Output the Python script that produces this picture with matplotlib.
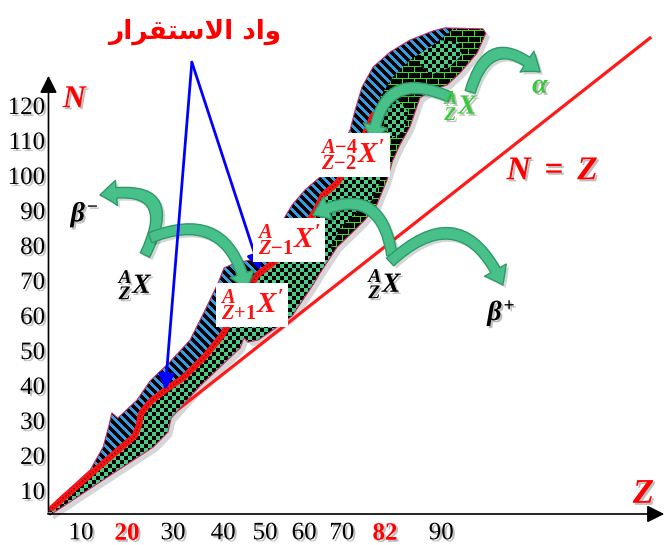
import numpy as np
import matplotlib.pyplot as plt
import matplotlib.patheffects as pe
from matplotlib.patches import Polygon, FancyArrowPatch
from matplotlib.transforms import ScaledTranslation

plt.rcParams['mathtext.fontset'] = 'custom'
plt.rcParams['mathtext.rm'] = 'Liberation Serif:bold'
plt.rcParams['mathtext.it'] = 'Liberation Serif:italic:bold'
plt.rcParams['mathtext.bf'] = 'Liberation Serif:bold'

# bord supérieur de la bande (Z, N), du bas vers le haut
haut_z = [2.8, 4.8, 12.0, 14.8, 16.1, 16.7, 18.0, 22.2, 25.0, 29.3, 33.7, 37.0, 39.8, 41.1, 43.5, 50.0,
          53.3, 55.9, 58.7, 62.0, 65.7, 68.5, 69.6, 71.1, 73.5, 77.2, 81.5, 86.5, 89.1, 97.4, 98.0]
haut_n = [4.3, 8.0, 16.6, 23.1, 29.4, 32.9, 31.4, 36.6, 42.0, 47.4, 53.7, 62.3, 70.0, 74.3, 75.7, 77.4,
          86.6, 92.3, 96.6, 100.3, 107.1, 113.7, 119.4, 126.0, 131.7, 136.0, 139.4, 142.0, 142.9, 142.6, 141.4]

# bord inférieur, du haut vers le bas
bas_z = [97.2, 96.1, 92.4, 89.6, 86.3, 83.7, 83.0, 81.5, 79.3, 77.8, 76.5, 74.3, 71.7, 69.1, 65.7, 62.0,
         60.4, 55.9, 53.3, 48.5, 46.3, 45.4, 44.6, 35.9, 29.6, 28.9, 25.7, 14.1, 3.3]
bas_n = [138.9, 135.7, 130.0, 126.6, 125.1, 122.9, 120.3, 114.6, 109.4, 105.1, 99.4, 92.3, 88.0, 84.6, 80.3, 72.9,
         69.4, 60.6, 58.0, 53.7, 53.1, 54.3, 51.4, 40.6, 31.4, 27.4, 23.1, 13.1, 3.7]

# vallée de stabilité
vallee_z = [3.7, 14.1, 21.7, 22.6, 23.0, 25.0, 28.3, 32.2, 37.0, 40.7, 48.3, 51.1, 53.3, 57.6, 61.3, 62.6,
            65.7, 67.0, 69.6, 72.2, 73.5]
vallee_n = [5.7, 17.7, 26.3, 29.4, 32.6, 36.0, 39.4, 42.9, 49.1, 55.1, 72.3, 75.1, 77.4, 83.7, 91.4, 95.1,
            98.6, 101.4, 108.0, 113.7, 118.0]

# limite intérieure de la zone bleue au sommet
bleu_z = [90.7, 89.1, 86.5, 81.5, 77.8, 75.0]
bleu_n = [142.6, 140.6, 138.0, 133.7, 128.9, 123.1]

# zone des émetteurs alpha
alpha_z = [65.7, 69.1, 71.7, 74.3, 76.5, 77.8, 79.3, 81.5, 83.0, 83.7, 86.3, 89.6, 92.4, 96.1, 97.2, 98.0,
           97.4, 91.3, 89.1, 86.5, 81.5, 77.8, 75.0, 74.3, 75.7, 75.7, 73.3, 70.0, 66.3, 64.1]
alpha_n = [80.3, 84.6, 88.0, 92.3, 99.4, 105.1, 109.4, 114.6, 120.3, 122.9, 125.1, 126.6, 130.0, 135.7, 138.9, 141.4,
           142.6, 142.9, 140.6, 138.0, 133.7, 128.9, 123.1, 116.6, 108.0, 100.9, 93.7, 90.3, 85.7, 79.4]

ilot1_z = [84.1, 88.0, 92.0, 92.8, 89.8, 85.9, 83.7]
ilot1_n = [137.4, 139.4, 138.9, 135.1, 131.4, 129.4, 132.3]
ilot2_z = [75.0, 78.9, 81.1, 80.2, 77.6, 75.9]
ilot2_n = [121.4, 122.3, 118.9, 113.1, 111.4, 114.3]

# droite N = Z
nz_z = [3.3, 133.7]
nz_n = [5.1, 140.0]

z_labels = ['10', '20', '30', '40', '50', '60', '70', '82', '90']
z_pos = [10.0, 20.0, 30.0, 40.9, 50.0, 58.5, 66.7, 76.1, 88.3]
n_labels = [10, 20, 30, 40, 50, 60, 70, 80, 90, 100, 110, 120]

W, H = 669, 545
fig = plt.figure(figsize=(W / 100, H / 100), dpi=100)
ax = fig.add_axes([0, 0, 1, 1])
x0, x1 = -7.61, 137.83
y0, y1 = -4.86, 150.86
ax.set_xlim(x0, x1)
ax.set_ylim(y0, y1)
ax.axis('off')

# textures (damier, rayures, briques)
ii, jj = np.mgrid[0:H, 0:W]
noir = np.array([0.0, 0.0, 0.0])
vert = np.array([0.29, 0.80, 0.52])
bleu = np.array([0.20, 0.62, 0.90])
vert_vif = np.array([0.25, 0.85, 0.15])
damier = np.where((((ii // 4) + (jj // 4)) % 2 == 0)[..., None], vert, noir)
rayures = np.where((((jj - ii) % 9) < 4)[..., None], bleu, noir)
brique = ((ii % 6) == 0) | (((jj + 6 * ((ii // 6) % 2)) % 12) == 0)
briques = np.where(brique[..., None], vert_vif, noir)


def remplir(z, n, tex, zo):
    poly = Polygon(np.column_stack([z, n]), closed=True, fc='none', ec='none')
    ax.add_patch(poly)
    im = ax.imshow(tex, extent=(x0, x1, y0, y1), origin='upper', interpolation='nearest',
                   aspect='auto', zorder=zo)
    im.set_clip_path(poly)


contour_z = haut_z + bas_z
contour_n = haut_n + bas_n

# N = Z
ax.plot(nz_z, nz_n, color='#ff1a1a', lw=2.3, zorder=1.5)

# ombre de la bande
ombre = Polygon(np.column_stack([contour_z, contour_n]), closed=True, fc='black', ec='none', alpha=0.16,
                transform=ax.transData + ScaledTranslation(3 / 72, -3 / 72, fig.dpi_scale_trans), zorder=1)
ax.add_patch(ombre)

remplir(contour_z, contour_n, damier, 2)
remplir(alpha_z, alpha_n, briques, 3)
remplir(ilot1_z, ilot1_n, damier, 3.5)
remplir(ilot2_z, ilot2_n, damier, 3.5)
haut_bleu = haut_z.index(89.1) + 1
zone_bleue_z = haut_z[:haut_bleu] + bleu_z + vallee_z[::-1]
zone_bleue_n = haut_n[:haut_bleu] + bleu_n + vallee_n[::-1]
remplir(zone_bleue_z, zone_bleue_n, rayures, 4)

ax.add_patch(Polygon(np.column_stack([contour_z, contour_n]), closed=True, fc='none', ec='#c83070',
                     lw=0.8, zorder=4.5))
ax.plot(vallee_z, vallee_n, color='#ff1010', lw=4.5, solid_capstyle='round', zorder=5)
ax.plot(vallee_z, vallee_n, color='#400000', lw=1.0, ls=(0, (0.8, 1.8)), zorder=5.1)

# axes
ax.annotate('', xy=(2.93, 130.0), xytext=(2.93, 4.0),
            arrowprops=dict(arrowstyle='-|>', color='black', lw=1.2, mutation_scale=26), zorder=6)
ax.annotate('', xy=(137.4, 4.0), xytext=(2.2, 4.0),
            arrowprops=dict(arrowstyle='-|>', color='black', lw=1.2, mutation_scale=26), zorder=6)

ombre_txt = [pe.withSimplePatchShadow(offset=(1.5, -1.5), shadow_rgbFace='black', alpha=0.25)]

for v in n_labels:
    ax.text(2.2, v, str(v), ha='right', va='center', fontsize=18, family='Liberation Serif',
            path_effects=ombre_txt)
for lab, p in zip(z_labels, z_pos):
    rouge = lab in ('20', '82')
    ax.text(p, -1.5, lab, ha='center', va='center', fontsize=18, family='Liberation Serif',
            color='#ff0000' if rouge else 'black', fontweight='bold' if rouge else 'normal',
            path_effects=ombre_txt)

ax.text(8.9, 122.6, '$N$', color='#ff0000', fontsize=23, ha='center', va='center', path_effects=ombre_txt)
ax.text(132.4, 10.0, '$Z$', color='#ff0000', fontsize=25, ha='center', va='center', path_effects=ombre_txt)
ax.text(112.6, 102.3, r'$N\ =\ Z$', color='#ff0000', fontsize=24, ha='center', va='center',
        path_effects=ombre_txt)

# titre arabe (formes de présentation, ordre visuel)
titre = '\uFEAD\uFE8D\uFEAE\uFED8\uFE98\uFEB3\uFEFB\uFE8D \uFEA9\uFE8D\uFEED'
ax.text(34.8, 141.7, titre, color='#ff0000', fontsize=19, family='DejaVu Sans', fontweight='bold',
        ha='center', va='center')

# flèches bleues vers la vallée
for tip in [(28.3, 39.4), (48.9, 73.7)]:
    ax.annotate('', xy=tip, xytext=(34.1, 133.1),
                arrowprops=dict(arrowstyle='-|>', color='#0000ff', lw=2.0, mutation_scale=24,
                                shrinkA=0, shrinkB=0), zorder=9)

# flèches vertes des désintégrations
fleches = [((23.9, 78.0), (14.1, 95.1), 1.0),
           ((25.0, 82.9), (45.9, 68.0), -0.6),
           ((77.6, 78.0), (60.4, 89.4), 0.7),
           ((77.2, 76.0), (101.7, 69.4), -0.7),
           ((90.2, 123.1), (73.5, 110.3), 0.7),
           ((94.6, 124.6), (109.8, 130.3), -0.8)]
for a, b, r in fleches:
    fl = FancyArrowPatch(a, b, connectionstyle=f'arc3,rad={r}',
                         arrowstyle='simple,head_length=12,head_width=18,tail_width=7.5',
                         mutation_scale=1, fc='#48c08a', ec='#2f9a68', lw=1, shrinkA=0, shrinkB=0,
                         zorder=7, path_effects=[pe.SimplePatchShadow(offset=(2, -2), alpha=0.2), pe.Normal()])
    ax.add_patch(fl)

ax.text(22.0, 69.4, "${}^{A}_{Z}X$", fontsize=20, color='black', ha='center', va='center', zorder=8,
        path_effects=ombre_txt)
ax.text(76.3, 69.7, "${}^{A}_{Z}X$", fontsize=20, color='black', ha='center', va='center', zorder=8,
        path_effects=ombre_txt)
ax.text(92.8, 120.6, "${}^{A}_{Z}X$", fontsize=20, color='#3cc83c', ha='center', va='center', zorder=8,
        path_effects=ombre_txt)
ax.text(10.9, 89.4, r'$\beta^{-}$', fontsize=20, color='black', ha='center', va='center', path_effects=ombre_txt)
ax.text(101.5, 61.4, r'$\beta^{+}$', fontsize=20, color='black', ha='center', va='center', path_effects=ombre_txt)
ax.text(110.0, 126.6, r'$\alpha$', fontsize=20, color='#3cc83c', ha='center', va='center', path_effects=ombre_txt)

boite = dict(boxstyle='square,pad=0.15', fc='white', ec='none')
for (z, n), s in [((47.2, 63.7), "${}^{A}_{Z{+}1}X'$"),
                  ((55.2, 82.3), "${}^{A}_{Z{-}1}X'$"),
                  ((69.1, 106.6), "${}^{A{-}4}_{Z{-}2}X'$")]:
    ax.text(z, n, s, fontsize=21, color='#ff1010', ha='center', va='center', bbox=boite, zorder=10)

fig.savefig('out.png', dpi=100, facecolor='white')
